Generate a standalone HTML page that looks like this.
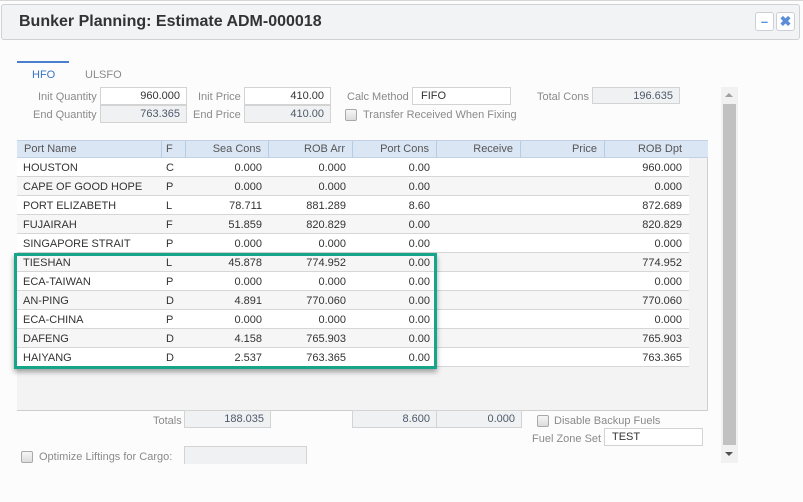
<!DOCTYPE html>
<html>
<head>
<meta charset="utf-8">
<style>
*{box-sizing:border-box;margin:0;padding:0}
html,body{width:803px;height:502px;overflow:hidden;background:#fcfcfc;font-family:"Liberation Sans",Arial,sans-serif;font-size:11px;color:#333;position:relative}
.a{position:absolute}
.topline{left:0;top:0;width:803px;height:1px;background:#d6d6d6}
.titlebar{left:1px;top:4px;width:799px;height:36px;background:#f2f3f5;border:1px solid #cfd1d4;border-radius:3px}
.title{left:19px;top:12px;font-size:16px;font-weight:bold;color:#333;line-height:20px;white-space:nowrap}
.btn{top:12px;width:19px;height:19px;background:#fff;border:1px solid #ccd0d6;border-radius:3px;color:#5b8ed6;font-weight:bold;text-align:center;line-height:17px;font-size:13px}
.lbl{color:#8a8a8a;white-space:nowrap;line-height:14px}
.inp{height:18px;border:1px solid #d3d3d3;background:#fff;line-height:17px;text-align:right;padding-right:6px;color:#333;white-space:nowrap}
.inp.g{background:#f0f1f3;color:#4d5a6a}
.cb{width:12px;height:12px;border:1px solid #a9a9a9;border-radius:2px;background:linear-gradient(#f6f6f6,#dcdcdc)}
.hdr{left:17px;top:140px;width:691px;height:18px;background:#dbe6f5;border-top:1px solid #c3d1e6;border-bottom:1px solid #c3d1e6}
.hc{top:0;height:17px;line-height:17px;color:#555;border-right:1px solid #b8cbe6;padding:0 7px;white-space:nowrap}
.body{left:17px;top:158px;width:691px;height:253px;background:#f3f3f3;border-right:1px solid #cfcfcf;border-bottom:1px solid #cfcfcf}
.row{position:absolute;left:0;width:672px;height:19px;border-bottom:1px solid #d6d6d6;background:#fff}
.row.e{background:#f6f6f6}
.c{position:absolute;top:1px;height:18px;line-height:18px;white-space:nowrap;color:#333}
.r{text-align:right}
.green{left:14px;top:253px;width:423px;height:116px;border:3px solid #17a589;box-shadow:0 3px 5px rgba(0,0,0,0.35)}
.sb{left:721px;top:87px;width:17px;height:376px;background:#f1f1f1}
.thumb{left:723px;top:104px;width:13px;height:341px;background:#c1c1c1}
</style>
</head>
<body>
<div class="a topline"></div>
<div class="a titlebar"></div>
<div class="a title">Bunker Planning: Estimate ADM-000018</div>
<div class="a btn" style="left:755px">&#8211;</div>
<div class="a btn" style="left:776px;font-size:14px">&#10006;</div>

<!-- tabs -->
<div class="a" style="left:17px;top:61px;width:52px;height:2px;background:#4a7fcf"></div>
<div class="a" style="left:32px;top:68px;color:#3b73c4;line-height:14px">HFO</div>
<div class="a" style="left:85px;top:68px;color:#8a8a8a;line-height:14px">ULSFO</div>

<!-- top form -->
<div class="a lbl" style="left:38px;top:90px">Init Quantity</div>
<div class="a lbl" style="left:33px;top:108px">End Quantity</div>
<div class="a inp" style="left:100px;top:87px;width:87px">960.000</div>
<div class="a inp g" style="left:100px;top:105px;width:87px">763.365</div>

<div class="a lbl" style="left:198px;top:90px">Init Price</div>
<div class="a lbl" style="left:193px;top:108px">End Price</div>
<div class="a inp" style="left:244px;top:87px;width:87px">410.00</div>
<div class="a inp g" style="left:244px;top:105px;width:87px">410.00</div>

<div class="a lbl" style="left:347px;top:90px">Calc Method</div>
<div class="a inp" style="left:412px;top:87px;width:99px;text-align:left;padding-left:8px">FIFO</div>
<div class="a cb" style="left:345px;top:109px"></div>
<div class="a lbl" style="left:363px;top:108px">Transfer Received When Fixing</div>

<div class="a lbl" style="left:537px;top:90px">Total Cons</div>
<div class="a inp g" style="left:592px;top:87px;width:88px;height:17px;line-height:16px">196.635</div>

<!-- scrollbar -->
<div class="a sb"></div>
<div class="a thumb"></div>
<div class="a" style="left:725px;top:93px;width:0;height:0;border-left:4px solid transparent;border-right:4px solid transparent;border-bottom:4px solid #a0a0a0"></div>
<div class="a" style="left:725px;top:452px;width:0;height:0;border-left:4px solid transparent;border-right:4px solid transparent;border-top:4px solid #505050"></div>

<!-- grid header -->
<div class="a hdr">
  <div class="a hc" style="left:0;width:145px">Port Name</div>
  <div class="a hc" style="left:145px;width:24px;padding:0 4px">F</div>
  <div class="a hc r" style="left:169px;width:83px">Sea Cons</div>
  <div class="a hc r" style="left:252px;width:84px">ROB Arr</div>
  <div class="a hc r" style="left:336px;width:84px">Port Cons</div>
  <div class="a hc r" style="left:420px;width:84px">Receive</div>
  <div class="a hc r" style="left:504px;width:84px">Price</div>
  <div class="a hc r" style="left:588px;width:103px;border-right:none;padding-right:26px">ROB Dpt</div>
</div>

<!-- grid body -->
<div class="a body">
  <div class="row" style="top:0"><div class="c" style="left:6px">HOUSTON</div><div class="c" style="left:149px">C</div><div class="c r" style="left:169px;width:76px">0.000</div><div class="c r" style="left:252px;width:77px">0.000</div><div class="c r" style="left:336px;width:77px">0.00</div><div class="c r" style="left:588px;width:77px">960.000</div></div>
  <div class="row e" style="top:19px"><div class="c" style="left:6px">CAPE OF GOOD HOPE</div><div class="c" style="left:149px">P</div><div class="c r" style="left:169px;width:76px">0.000</div><div class="c r" style="left:252px;width:77px">0.000</div><div class="c r" style="left:336px;width:77px">0.00</div><div class="c r" style="left:588px;width:77px">0.000</div></div>
  <div class="row" style="top:38px"><div class="c" style="left:6px">PORT ELIZABETH</div><div class="c" style="left:149px">L</div><div class="c r" style="left:169px;width:76px">78.711</div><div class="c r" style="left:252px;width:77px">881.289</div><div class="c r" style="left:336px;width:77px">8.60</div><div class="c r" style="left:588px;width:77px">872.689</div></div>
  <div class="row e" style="top:57px"><div class="c" style="left:6px">FUJAIRAH</div><div class="c" style="left:149px">F</div><div class="c r" style="left:169px;width:76px">51.859</div><div class="c r" style="left:252px;width:77px">820.829</div><div class="c r" style="left:336px;width:77px">0.00</div><div class="c r" style="left:588px;width:77px">820.829</div></div>
  <div class="row" style="top:76px"><div class="c" style="left:6px">SINGAPORE STRAIT</div><div class="c" style="left:149px">P</div><div class="c r" style="left:169px;width:76px">0.000</div><div class="c r" style="left:252px;width:77px">0.000</div><div class="c r" style="left:336px;width:77px">0.00</div><div class="c r" style="left:588px;width:77px">0.000</div></div>
  <div class="row e" style="top:95px"><div class="c" style="left:6px">TIESHAN</div><div class="c" style="left:149px">L</div><div class="c r" style="left:169px;width:76px">45.878</div><div class="c r" style="left:252px;width:77px">774.952</div><div class="c r" style="left:336px;width:77px">0.00</div><div class="c r" style="left:588px;width:77px">774.952</div></div>
  <div class="row" style="top:114px"><div class="c" style="left:6px">ECA-TAIWAN</div><div class="c" style="left:149px">P</div><div class="c r" style="left:169px;width:76px">0.000</div><div class="c r" style="left:252px;width:77px">0.000</div><div class="c r" style="left:336px;width:77px">0.00</div><div class="c r" style="left:588px;width:77px">0.000</div></div>
  <div class="row e" style="top:133px"><div class="c" style="left:6px">AN-PING</div><div class="c" style="left:149px">D</div><div class="c r" style="left:169px;width:76px">4.891</div><div class="c r" style="left:252px;width:77px">770.060</div><div class="c r" style="left:336px;width:77px">0.00</div><div class="c r" style="left:588px;width:77px">770.060</div></div>
  <div class="row" style="top:152px"><div class="c" style="left:6px">ECA-CHINA</div><div class="c" style="left:149px">P</div><div class="c r" style="left:169px;width:76px">0.000</div><div class="c r" style="left:252px;width:77px">0.000</div><div class="c r" style="left:336px;width:77px">0.00</div><div class="c r" style="left:588px;width:77px">0.000</div></div>
  <div class="row e" style="top:171px"><div class="c" style="left:6px">DAFENG</div><div class="c" style="left:149px">D</div><div class="c r" style="left:169px;width:76px">4.158</div><div class="c r" style="left:252px;width:77px">765.903</div><div class="c r" style="left:336px;width:77px">0.00</div><div class="c r" style="left:588px;width:77px">765.903</div></div>
  <div class="row" style="top:190px"><div class="c" style="left:6px">HAIYANG</div><div class="c" style="left:149px">D</div><div class="c r" style="left:169px;width:76px">2.537</div><div class="c r" style="left:252px;width:77px">763.365</div><div class="c r" style="left:336px;width:77px">0.00</div><div class="c r" style="left:588px;width:77px">763.365</div></div>
</div>

<div class="a green"></div>

<!-- totals -->
<div class="a lbl" style="left:153px;top:414px">Totals</div>
<div class="a inp g" style="left:184px;top:410px;width:87px">188.035</div>
<div class="a inp g" style="left:352px;top:410px;width:85px">8.600</div>
<div class="a inp g" style="left:436px;top:410px;width:86px">0.000</div>

<div class="a cb" style="left:537px;top:415px"></div>
<div class="a lbl" style="left:554px;top:414px">Disable Backup Fuels</div>
<div class="a lbl" style="left:532px;top:432px">Fuel Zone Set</div>
<div class="a inp" style="left:604px;top:428px;width:99px;text-align:left;padding-left:7px">TEST</div>

<div class="a cb" style="left:21px;top:451px"></div>
<div class="a lbl" style="left:39px;top:450px">Optimize Liftings for Cargo:</div>
<div class="a" style="left:184px;top:446px;width:123px;height:18px;border:1px solid #d3d3d3;border-bottom:none;background:#f0f1f3"></div>
</body>
</html>
